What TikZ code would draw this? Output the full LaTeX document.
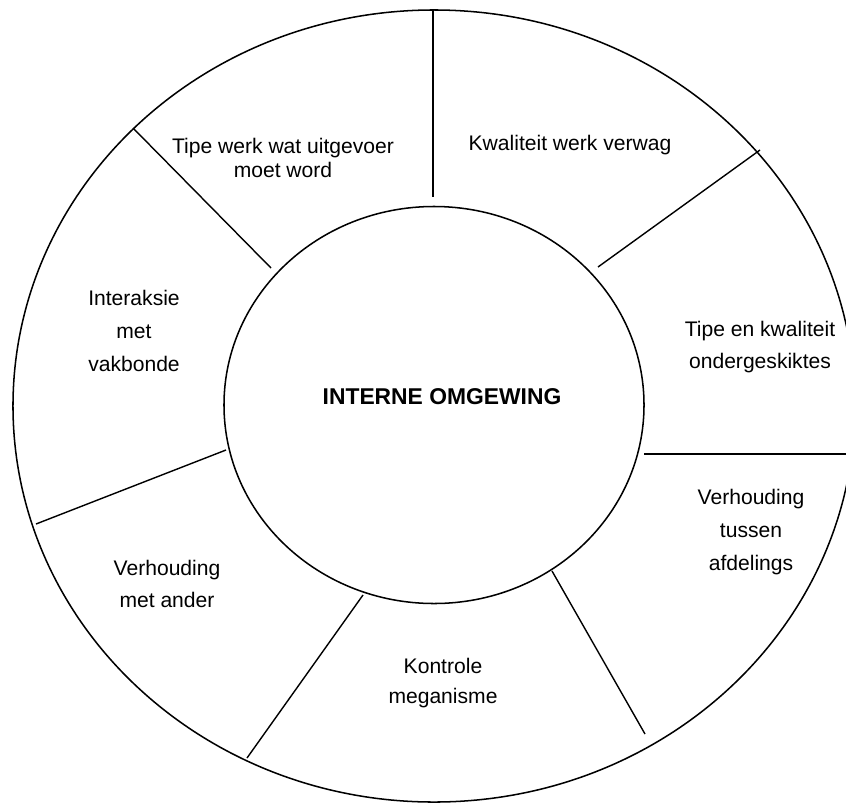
\documentclass[tikz,border=0pt]{standalone}
\usepackage{fontspec}
\setmainfont{Liberation Sans}
\usetikzlibrary{shapes.geometric}

\begin{document}
\begin{tikzpicture}[x=0.03cm,y=-0.03cm,
  ring/.style={draw,ellipse,line width=1.3pt,inner sep=0pt},
  spoke/.style={line width=1.2pt},
  lbl/.style={align=center,font=\fontsize{18}{28}\selectfont}]
  \useasboundingbox (0,0) rectangle (846,803);
  \clip (0,0) rectangle (846,803);
  % the two rings
  \node[ring,minimum width=25.26cm,minimum height=23.76cm] (outer) at (434,406) {};
  \node[ring,minimum width=12.6cm,minimum height=11.91cm] (inner) at (434,405) {};
  \node[font=\fontsize{19.5}{22}\selectfont\bfseries] (core) at (442,397) {INTERNE OMGEWING};
  % spoke ends
  \coordinate (t1) at (433,10);   \coordinate (t2) at (433,197);
  \coordinate (tr1) at (760,150); \coordinate (tr2) at (598,267);
  \coordinate (r1) at (850,454);  \coordinate (r2) at (644,454);
  \coordinate (br1) at (645,734); \coordinate (br2) at (552,571);
  \coordinate (bl1) at (247,758); \coordinate (bl2) at (363,595);
  \coordinate (l1) at (36,524);   \coordinate (l2) at (226,450);
  \coordinate (tl1) at (133,128); \coordinate (tl2) at (271,268);
  \foreach \p in {t,tr,r,br,bl,l,tl}
    \draw[spoke] (\p1) -- (\p2);
  % segment labels
  \node[lbl,font=\fontsize{18}{21}\selectfont] (work) at (283,158) {Tipe werk wat uitgevoer\\moet word};
  \node[lbl] (qual) at (570,145) {Kwaliteit werk verwag};
  \node[lbl] (staff) at (760,347) {Tipe en kwaliteit\\ondergeskiktes};
  \node[lbl] (dept) at (751,532) {Verhouding\\tussen\\afdelings};
  \node[lbl,font=\fontsize{18}{25.5}\selectfont] (ctrl) at (443,683) {Kontrole\\meganisme};
  \node[lbl] (other) at (167,584) {Verhouding\\met ander};
  \node[lbl] (union) at (134,331) {Interaksie\\met\\vakbonde};
\end{tikzpicture}
\end{document}
